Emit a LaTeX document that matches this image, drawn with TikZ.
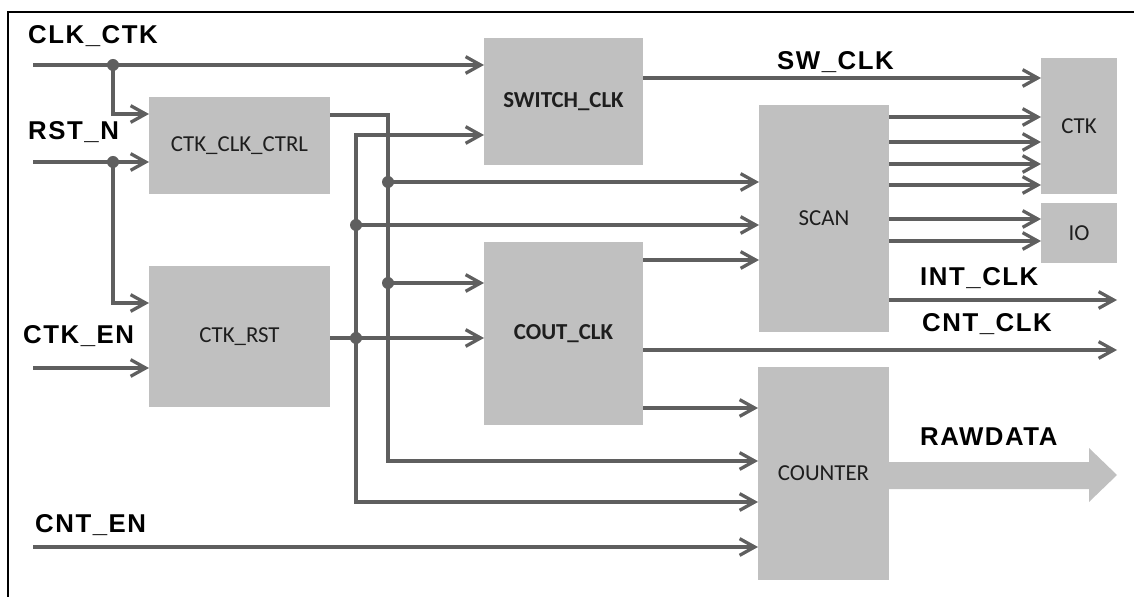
\documentclass[tikz,border=0pt]{standalone}
\usepackage{fontspec}
\setmainfont{Liberation Sans}
\newfontfamily\boxfont{Carlito}
\newfontfamily\sigfont[LetterSpace=6]{Liberation Sans}
\usetikzlibrary{arrows.meta}
\definecolor{lc}{RGB}{95,95,95}
\definecolor{bf}{RGB}{192,192,192}
\definecolor{bt}{RGB}{30,30,30}
\begin{document}
\begin{tikzpicture}[x=0.03cm,y=-0.03cm,
  blk/.style={fill=bf, draw=none, inner sep=0pt, outer sep=0pt, text=bt, font=\boxfont\fontsize{19.5}{22}\selectfont},
  bblk/.style={blk, font=\boxfont\bfseries\fontsize{19.5}{22}\selectfont},
  sig/.style={font=\sigfont\bfseries\fontsize{22}{26}\selectfont, anchor=base west, inner sep=0pt},
  wire/.style={draw=lc, line width=2.8pt},
  arr/.style={wire, -{Straight Barb[length=4.5mm, width=5mm]}},
  dot/.style={circle, fill=lc, inner sep=0pt, minimum size=0.36cm}]
\useasboundingbox (0,0) rectangle (1134,597);
% frame
\draw[line width=1.5pt] (8,597) -- (8,12) -- (1134,12);
% blocks
\node[blk, minimum width=5.43cm, minimum height=2.91cm] (ctrl) at (239.5,145.5) {CTK\_CLK\_CTRL};
\node[bblk, minimum width=4.77cm, minimum height=3.81cm] (sw) at (563.5,101.5) {SWITCH\_CLK};
\node[blk, minimum width=5.43cm, minimum height=4.23cm] (rst) at (239.5,336.5) {CTK\_RST};
\node[bblk, minimum width=4.77cm, minimum height=5.49cm] (cout) at (563.5,333.5) {COUT\_CLK};
\node[blk, minimum width=3.9cm, minimum height=6.81cm] (scan) at (824,218.5) {SCAN};
\node[blk, minimum width=2.28cm, minimum height=4.08cm] (ctk) at (1079,126) {CTK};
\node[blk, minimum width=2.28cm, minimum height=1.8cm] (io) at (1079,233) {IO};
\node[blk, minimum width=3.93cm, minimum height=6.39cm] (counter) at (823.5,473.5) {COUNTER};
% RAWDATA bus arrow
\fill[bf] (counter.east |- 0,462) -- (1089,462) -- (1089,448) -- (1117,475) -- (1089,502) -- (1089,489) -- (counter.east |- 0,489) -- cycle;
% coordinates
\coordinate (iclk) at (33,65);
\coordinate (irst) at (33,162);
\coordinate (ien) at (33,368);
\coordinate (icnt) at (33,547);
\coordinate (oint) at (1117,300);
\coordinate (ocnt) at (1117,350);
\coordinate (b1) at (388,461);
% inputs
\draw[arr] (iclk) -- (sw.west |- iclk);
\draw[arr] (113,65) |- (ctrl.west |- 0,114);
\draw[arr] (irst) -- (ctrl.west |- irst);
\draw[arr] (113,162) |- (rst.west |- 0,303);
\draw[arr] (ien) -- (rst.west |- ien);
\draw[arr] (icnt) -- (counter.west |- icnt);
% CTK_CLK_CTRL output bus
\draw[arr] (ctrl.east |- 0,115) -| (b1) -- (counter.west |- b1);
\draw[arr] (388,182) -- (scan.west |- 0,182);
\draw[arr] (388,283) -- (cout.west |- 0,283);
% CTK_RST output bus
\draw[arr] (rst.east |- 0,338) -- (cout.west |- 0,338);
\draw[arr] (356,338) |- (sw.west |- 0,135);
\draw[arr] (356,338) |- (counter.west |- 0,502);
\draw[arr] (356,225) -- (scan.west |- 0,225);
% junction dots
\node[dot] (d0) at (113,65) {};
\node[dot] (d0b) at (113,162) {};
\node[dot] (d1) at (388,182) {};
\node[dot] (d2) at (388,283) {};
\node[dot] (d3) at (356,225) {};
\node[dot] (d4) at (356,338) {};
% right side
\draw[arr] (sw.east |- 0,78) -- (ctk.west |- 0,78);
\foreach \yy in {117,142,164,185} \draw[arr] (scan.east |- 0,\yy) -- (ctk.west |- 0,\yy);
\foreach \yy in {219,241} \draw[arr] (scan.east |- 0,\yy) -- (io.west |- 0,\yy);
\draw[arr] (cout.east |- 0,260) -- (scan.west |- 0,260);
\draw[arr] (scan.east |- oint) -- (oint);
\draw[arr] (cout.east |- ocnt) -- (ocnt);
\draw[arr] (cout.east |- 0,408) -- (counter.west |- 0,408);
% labels
\node[sig] (lclk) at (28,44) {CLK\_CTK};
\node[sig] (lrst) at (28,140) {RST\_N};
\node[sig] (len) at (23,344) {CTK\_EN};
\node[sig] (lcnt) at (35,532) {CNT\_EN};
\node[sig] (lsw) at (777,70) {SW\_CLK};
\node[sig] (lint) at (920,286) {INT\_CLK};
\node[sig] (lcclk) at (922,332) {CNT\_CLK};
\node[sig] (lraw) at (920,445) {RAWDATA};
\end{tikzpicture}
\end{document}
